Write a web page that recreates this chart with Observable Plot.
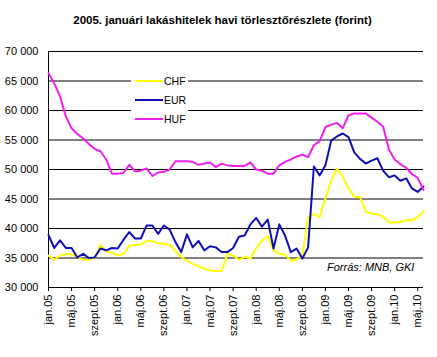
<!DOCTYPE html>
<html>
<head>
<meta charset="utf-8">
<script src="https://cdn.jsdelivr.net/npm/d3@7"></script>
<script src="https://cdn.jsdelivr.net/npm/@observablehq/plot@0.6"></script>
<style>
  body { margin: 0; background: #fff; font-family: Arial, "Liberation Sans", sans-serif; }
  #wrap { position: relative; width: 437px; height: 357px; overflow: hidden; background: #fff; }
  #title { position: absolute; top: 14px; left: 0; width: 437px; padding-left: 8px; box-sizing: border-box;
           text-align: center; font-weight: bold; font-size: 11.5px; line-height: 13px; color: #000; }
  #chart { position: absolute; top: 32px; left: 0; }
  #legend { position: absolute; left: 131px; top: 71px; width: 57px; height: 58px; background: #fff; }
  .lg-line { position: absolute; left: 4px; width: 28px; height: 2px; }
  .lg-text { position: absolute; left: 33px; font-size: 10.5px; line-height: 12px; color: #000; }
  #source { position: absolute; left: 327px; top: 261px; font-style: italic; font-size: 11px; line-height: 13px; color: #000; }
</style>
</head>
<body>
<div id="wrap">
  <div id="title">2005. januári lakáshitelek havi törlesztőrészlete (forint)</div>
  <div id="chart"></div>
  <div id="legend"></div>
  <div id="source">Forrás: MNB, GKI</div>
</div>
<script>
// Month categories (jan.05 … jún.10)
const monthNames = ["jan.", "febr.", "márc.", "ápr.", "máj.", "jún.", "júl.", "aug.", "szept.", "okt.", "nov.", "dec."];
const years = ["05", "06", "07", "08", "09", "10"];
const months = [];
for (const y of years) for (const m of monthNames) if (months.length < 66) months.push(m + y);

// X tick labels (every 4th month)
const tickLabels = ["jan.05","máj.05","szept.05","jan.06","máj.06","szept.06","jan.07","máj.07","szept.07",
                    "jan.08","máj.08","szept.08","jan.09","máj.09","szept.09","jan.10","máj.10"];

// Y ticks
const yTicks = [30000, 35000, 40000, 45000, 50000, 55000, 60000, 65000, 70000];

// Series
const seriesNames = ["CHF", "EUR", "HUF"];
const seriesColors = ["#ffff00", "#1010b8", "#f020f0"];

const chf = [35400, 34700, 35400, 35700, 35600, 35200, 34700, 34700, 35000, 37200,
             36200, 35900, 35400, 35700, 37100, 37200, 37300, 37900, 37900, 37500,
             37400, 37200, 36200, 35200, 34500, 34000, 33600, 33200, 32900, 32800,
             32800, 35700, 35400, 34700, 35200, 34900, 36700, 37900, 38700, 36300,
             35700, 35600, 34500, 34800, 35300, 41900, 42500, 41900, 45100, 48100,
             50200, 48800, 46800, 45400, 45300, 42900, 42500, 42400, 42000, 41000,
             41000, 41100, 41400, 41400, 41900, 43000];

const eur = [38900, 36700, 38000, 36700, 36700, 35100, 35700, 35000, 35100, 36600,
             36300, 36700, 36600, 38100, 39400, 38300, 38300, 40500, 40500, 39100,
             40500, 39800, 37700, 36000, 39000, 36800, 37900, 36300, 37000, 36800,
             36000, 36000, 36700, 38600, 38800, 40700, 41800, 40300, 41500, 36600,
             40700, 38800, 36000, 36600, 34900, 36800, 50500, 49000, 50700, 54900,
             55600, 56100, 55500, 52900, 51800, 51000, 51500, 51900, 49800, 48700,
             49000, 48100, 48500, 46800, 46200, 47100];

const huf = [66300, 64600, 62400, 59000, 57000, 56000, 55300, 54300, 53500, 53100,
             51700, 49300, 49300, 49400, 50800, 49700, 49800, 50200, 48900, 49500,
             49600, 50000, 51400, 51400, 51400, 51300, 50800, 51000, 51200, 50400,
             51000, 50700, 50600, 50600, 50600, 51200, 50000, 49800, 49300, 49300,
             50700, 51300, 51700, 52200, 52500, 52100, 54100, 54800, 57200, 57600,
             57900, 57000, 59200, 59500, 59500, 59500, 58800, 58100, 57300, 53400,
             51700, 50900, 50300, 49200, 48600, 46500];

const seriesValues = [chf, eur, huf];
const rows = [];
seriesNames.forEach((s, k) => seriesValues[k].forEach((v, i) => rows.push({series: s, month: months[i], value: v})));

const fmt = d => d3.format(",")(d).replace(/,/g, " ");

const chart = Plot.plot({
  width: 437,
  height: 325,
  marginTop: 19,
  marginBottom: 70,
  marginLeft: 48,
  marginRight: 14,
  style: { fontSize: "11px", fontFamily: "Arial, 'Liberation Sans', sans-serif", color: "#000", background: "#fff", overflow: "visible" },
  x: { type: "point", domain: months, padding: 0, ticks: tickLabels, tickRotate: -90, tickSize: 4, tickPadding: 3, label: null },
  y: { domain: [30000, 70000], ticks: yTicks, tickFormat: fmt, tickSize: 0, tickPadding: 10, label: null },
  color: { domain: seriesNames, range: seriesColors },
  marks: [
    Plot.ruleY(yTicks, { stroke: "#000", strokeWidth: 1 }),
    Plot.ruleX([months[0]], { stroke: "#000", strokeWidth: 1 }),
    Plot.line(rows, { x: "month", y: "value", z: "series", stroke: "series", strokeWidth: 2, strokeLinejoin: "round" })
  ]
});
document.getElementById("chart").appendChild(chart);

// Legend (inside plot area, as in the reference)
const legend = document.getElementById("legend");
const rowY = [10, 29, 48];
seriesNames.forEach((s, k) => {
  const line = document.createElement("div");
  line.className = "lg-line";
  line.style.top = (rowY[k] - 1) + "px";
  line.style.background = seriesColors[k];
  legend.appendChild(line);
  const t = document.createElement("div");
  t.className = "lg-text";
  t.style.top = (rowY[k] - 6) + "px";
  t.textContent = s;
  legend.appendChild(t);
});
</script>
</body>
</html>
